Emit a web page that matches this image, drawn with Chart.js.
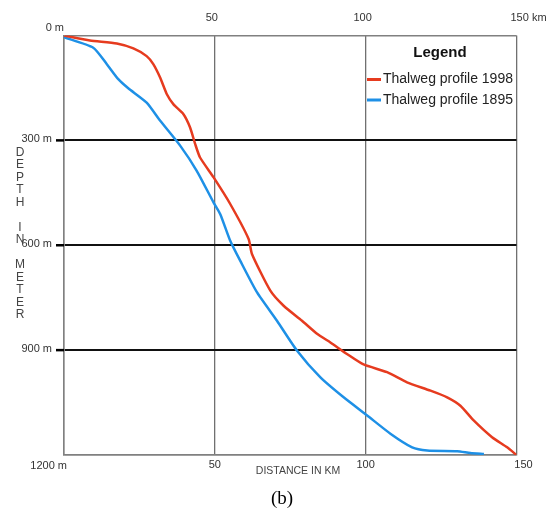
<!DOCTYPE html>
<html>
<head>
<meta charset="utf-8">
<script src="https://cdn.jsdelivr.net/npm/chart.js@4/dist/chart.umd.min.js"></script>
<style>
    html, body { margin: 0; padding: 0; background: #fff; }
    #wrap { width: 548px; height: 509px; }
</style>
</head>
<body>
<div id="wrap"><canvas id="profile-chart" width="548" height="509"></canvas></div>
<script>
// Thalweg profile 1998 (distance in km, depth in m)
const distance1998 = [0, 8.6, 17.5, 23, 27.4, 29.6, 31.9, 34.1, 36.3, 39.6, 41.8, 43.5, 45.1, 49.6, 55.1, 61.2, 62.3, 68.4, 72.8, 78.9, 84, 88.3, 93.8, 99.3, 107.1, 113.7, 121.5, 127, 131.4, 135.8, 141.9, 146.9, 150];
const depth1998 = [0, 14, 23, 37, 59, 82, 121, 168, 197, 225, 263, 311, 349, 406, 482, 582, 625, 730, 773, 816, 854, 878, 911, 941, 963, 992, 1016, 1035, 1059, 1101, 1149, 1178, 1200];

// Thalweg profile 1895
const distance1895 = [0, 9.7, 14.2, 18, 21.3, 27.4, 31.9, 38.5, 44, 49.6, 51.8, 55.1, 58.4, 64, 70.6, 77.2, 85, 92.7, 100.5, 108.2, 115.4, 120.4, 130.3, 134.7, 139.2];
const depth1895 = [5, 35, 82, 125, 151, 192, 244, 315, 387, 478, 511, 587, 644, 735, 816, 901, 978, 1035, 1087, 1139, 1178, 1187, 1189, 1194, 1197];

const seriesLabels = ['Thalweg profile 1998', 'Thalweg profile 1895'];
const seriesColors = ['#e63b1f', '#1e90e6'];

const xTicks = [50, 100, 150];
const xTopLabels = ['50', '100', '150 km'];
const xBottomLabels = ['50', '100', '150'];
const yTicks = [0, 300, 600, 900, 1200];
const yTickLabels = ['0 m', '300 m', '600 m', '900 m', '1200 m'];
const yTitle = 'DEPTH IN METER';
const xTitle = 'DISTANCE IN KM';
const caption = '(b)';

const toPoints = (xs, ys) => xs.map((x, i) => ({ x: x, y: ys[i] }));

// draws tick labels, axis titles, the little tick marks and the legend
const decorPlugin = {
    id: 'decor',
    afterDraw(chart) {
        const ctx = chart.ctx;
        const xs = chart.scales.x;
        const ys = chart.scales.y;
        const area = chart.chartArea;
        ctx.save();
        ctx.fillStyle = '#333';
        ctx.font = '11px "Liberation Sans", Arial, sans-serif';
        ctx.textBaseline = 'middle';

        // top x labels
        xTicks.forEach((v, i) => {
            const px = xs.getPixelForValue(v);
            if (i === xTicks.length - 1) {
                ctx.textAlign = 'left';
                ctx.fillText(xTopLabels[i], px - 6, 18);
            } else {
                ctx.textAlign = 'center';
                ctx.fillText(xTopLabels[i], px - 3, 18);
            }
        });
        // bottom x labels
        xTicks.forEach((v, i) => {
            const px = xs.getPixelForValue(v);
            ctx.textAlign = 'center';
            ctx.fillText(xBottomLabels[i], px + (i === xTicks.length - 1 ? 7 : 0), 465);
        });

        // y labels
        yTicks.forEach((v, i) => {
            const py = ys.getPixelForValue(v);
            if (v === 0) {
                ctx.textAlign = 'right';
                ctx.fillText(yTickLabels[i], area.left, py - 8);
            } else if (v === 1200) {
                ctx.textAlign = 'right';
                ctx.fillText(yTickLabels[i], area.left + 3, py + 11);
            } else {
                ctx.textAlign = 'right';
                ctx.fillText(yTickLabels[i], 52, py - 1);
                ctx.strokeStyle = '#000';
                ctx.lineWidth = 2.5;
                ctx.beginPath();
                ctx.moveTo(56, py);
                ctx.lineTo(area.left, py);
                ctx.stroke();
            }
        });

        // axis titles
        ctx.fillStyle = '#444';
        ctx.font = '10.5px "Liberation Sans", Arial, sans-serif';
        ctx.textAlign = 'center';
        ctx.fillText(xTitle, 298, 471);

        ctx.font = '12px "Liberation Sans", Arial, sans-serif';
        yTitle.split('').forEach((ch, i) => {
            if (ch !== ' ') ctx.fillText(ch, 20, 152.5 + i * 12.5);
        });

        // caption
        ctx.fillStyle = '#000';
        ctx.font = '19px "Liberation Serif", "Times New Roman", serif';
        ctx.fillText(caption, 282, 499);

        // legend
        ctx.fillStyle = '#111';
        ctx.font = 'bold 15px "Liberation Sans", Arial, sans-serif';
        ctx.fillText('Legend', 440, 53);
        ctx.font = '14px "Liberation Sans", Arial, sans-serif';
        ctx.textAlign = 'left';
        seriesLabels.forEach((label, i) => {
            const ly = 79.5 + i * 20.5;
            ctx.strokeStyle = seriesColors[i];
            ctx.lineWidth = 3;
            ctx.beginPath();
            ctx.moveTo(367, ly);
            ctx.lineTo(381, ly);
            ctx.stroke();
            ctx.fillStyle = '#222';
            ctx.fillText(label, 383, ly);
        });
        ctx.restore();
    }
};

const chart = new Chart(document.getElementById('profile-chart').getContext('2d'), {
    type: 'scatter',
    data: {
        datasets: [{
            label: seriesLabels[0],
            data: toPoints(distance1998, depth1998),
            borderColor: seriesColors[0],
            backgroundColor: seriesColors[0],
            showLine: true,
            borderWidth: 2.5,
            pointRadius: 0,
            tension: 0.2
        }, {
            label: seriesLabels[1],
            data: toPoints(distance1895, depth1895),
            borderColor: seriesColors[1],
            backgroundColor: seriesColors[1],
            showLine: true,
            borderWidth: 2.5,
            pointRadius: 0,
            tension: 0.2
        }]
    },
    options: {
        responsive: false,
        animation: false,
        devicePixelRatio: 1,
        layout: {
            padding: { left: 64, right: 31.5, top: 35.5, bottom: 54 }
        },
        scales: {
            x: {
                type: 'linear',
                min: 0,
                max: 150,
                ticks: { display: false, stepSize: 50 },
                grid: {
                    drawTicks: false,
                    color: '#707070',
                    lineWidth: 1.3
                },
                border: { color: '#808080', width: 1.5 }
            },
            y: {
                type: 'linear',
                min: 0,
                max: 1200,
                reverse: true,
                ticks: { display: false, stepSize: 300 },
                grid: {
                    drawTicks: false,
                    color: (c) => (c.tick.value % 1200 === 0 ? '#808080' : '#111'),
                    lineWidth: (c) => (c.tick.value % 1200 === 0 ? 1.5 : 2)
                },
                border: { color: '#808080', width: 1.5 }
            }
        },
        plugins: {
            legend: { display: false },
            tooltip: { enabled: false }
        }
    },
    plugins: [decorPlugin]
});
</script>
</body>
</html>
